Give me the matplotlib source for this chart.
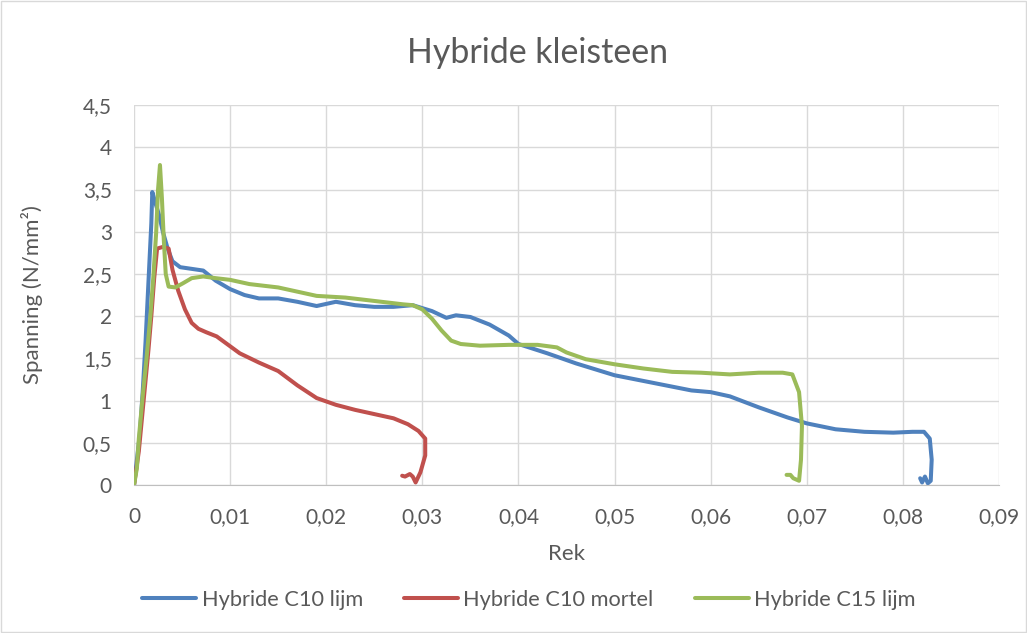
import numpy as np
import matplotlib
matplotlib.use('Agg')
import matplotlib.pyplot as plt
from matplotlib.patches import Rectangle
from matplotlib.ticker import FuncFormatter

plt.rcParams['font.family'] = ['Lato', 'DejaVu Sans']

# Hybride C10 lijm
rek_c10_lijm = [0, 0.0003, 0.0006, 0.0009, 0.0012, 0.0015, 0.0018, 0.0019, 0.0022, 0.0026,
                0.003, 0.0035, 0.004, 0.0048, 0.006, 0.0072, 0.0085, 0.01, 0.0115, 0.013,
                0.015, 0.017, 0.019, 0.021, 0.023, 0.025, 0.027, 0.029, 0.031, 0.0325,
                0.0335, 0.035, 0.037, 0.039, 0.04, 0.043, 0.046, 0.05, 0.054, 0.058,
                0.06, 0.062, 0.065, 0.068, 0.07, 0.073, 0.076, 0.079, 0.081, 0.0822,
                0.0828, 0.083, 0.0829, 0.0826, 0.0823, 0.082, 0.0818]
sp_c10_lijm = [0, 0.3, 0.6, 1.1, 1.7, 2.4, 3.1, 3.47, 3.35, 3.2,
               3.0, 2.8, 2.65, 2.58, 2.56, 2.54, 2.42, 2.32, 2.25, 2.21,
               2.21, 2.17, 2.12, 2.17, 2.13, 2.11, 2.11, 2.13, 2.06, 1.98,
               2.01, 1.99, 1.9, 1.77, 1.67, 1.56, 1.44, 1.30, 1.21, 1.12,
               1.1, 1.05, 0.92, 0.8, 0.73, 0.66, 0.63, 0.62, 0.63, 0.63,
               0.55, 0.3, 0.05, 0.02, 0.1, 0.03, 0.08]

# Hybride C10 mortel
rek_c10_mortel = [0, 0.0005, 0.001, 0.0015, 0.0018, 0.0021, 0.0024, 0.003, 0.0036, 0.004,
                  0.0046, 0.0053, 0.006, 0.0067, 0.0075, 0.0086, 0.0098, 0.011, 0.013, 0.015,
                  0.017, 0.019, 0.021, 0.023, 0.025, 0.027, 0.0285, 0.0296, 0.0303, 0.0303,
                  0.0298, 0.0293, 0.029, 0.0287, 0.0282, 0.0279]
sp_c10_mortel = [0, 0.4, 1.0, 1.6, 2.0, 2.45, 2.8, 2.82, 2.8, 2.55,
                 2.3, 2.08, 1.92, 1.85, 1.81, 1.76, 1.66, 1.56, 1.45, 1.35,
                 1.18, 1.03, 0.95, 0.89, 0.84, 0.79, 0.72, 0.64, 0.55, 0.35,
                 0.15, 0.03, 0.1, 0.13, 0.1, 0.11]

# Hybride C15 lijm
rek_c15_lijm = [0, 0.0003, 0.0005, 0.0009, 0.0013, 0.0017, 0.002, 0.0023, 0.0025, 0.0027,
                0.0029, 0.0031, 0.0033, 0.0036, 0.0043, 0.0051, 0.006, 0.0072, 0.0085, 0.01,
                0.012, 0.015, 0.017, 0.019, 0.022, 0.025, 0.028, 0.029, 0.03, 0.031,
                0.032, 0.033, 0.034, 0.036, 0.039, 0.042, 0.044, 0.045, 0.047, 0.05,
                0.053, 0.056, 0.059, 0.062, 0.065, 0.0675, 0.0685, 0.0692, 0.0695, 0.0694,
                0.0692, 0.0686, 0.0683, 0.0679]
sp_c15_lijm = [0, 0.2, 0.55, 1.05, 1.5, 2.0, 2.45, 2.98, 3.5, 3.79,
               3.4, 2.9, 2.5, 2.35, 2.34, 2.39, 2.45, 2.47, 2.45, 2.43,
               2.38, 2.34, 2.29, 2.24, 2.22, 2.18, 2.14, 2.13, 2.08, 1.97,
               1.83, 1.71, 1.67, 1.65, 1.66, 1.66, 1.63, 1.57, 1.49, 1.43,
               1.38, 1.34, 1.33, 1.31, 1.33, 1.33, 1.31, 1.1, 0.7, 0.3,
               0.05, 0.08, 0.12, 0.12]

tekst = '#595959'

fig = plt.figure(figsize=(10.27, 6.33), dpi=100)
ax = fig.add_axes([0.1305, 0.2338, 0.8422, 0.6002])

kw = dict(lw=2.9, solid_joinstyle='round', solid_capstyle='round')
ax.plot(rek_c10_lijm, sp_c10_lijm, color='#4F81BD', label='Hybride C10 lijm', **kw)
ax.plot(rek_c10_mortel, sp_c10_mortel, color='#C0504D', label='Hybride C10 mortel', **kw)
ax.plot(rek_c15_lijm, sp_c15_lijm, color='#9BBB59', label='Hybride C15 lijm', **kw)

ax.set_xlim(0, 0.09)
ax.set_ylim(0, 4.5)
ax.set_xticks(np.arange(0, 0.0901, 0.01))
ax.set_yticks(np.arange(0, 4.51, 0.5))

def komma(v, pos):
    s = ('%.2f' % v).rstrip('0').rstrip('.')
    return s.replace('.', ',')

ax.xaxis.set_major_formatter(FuncFormatter(komma))
ax.yaxis.set_major_formatter(FuncFormatter(komma))
ax.tick_params(axis='x', length=0, labelsize=15, colors=tekst, pad=16)
ax.tick_params(axis='y', length=0, labelsize=15, colors=tekst, pad=16)
ax.grid(True, color='#d9d9d9', lw=1)
ax.set_axisbelow(True)
for s in ['top', 'right', 'left']:
    ax.spines[s].set_visible(False)
ax.spines['bottom'].set_color('#bfbfbf')

ax.set_xlabel('Rek', fontsize=16, color=tekst)
ax.set_ylabel('Spanning (N/mm²)', fontsize=16, color=tekst)
ax.xaxis.set_label_coords(0.5, -0.155)
ax.yaxis.set_label_coords(-0.105, 0.5)
fig.text(0.5235, 0.916, 'Hybride kleisteen', ha='center', va='center',
         fontsize=24.4, color=tekst)

fig.legend(loc='center', bbox_to_anchor=(0.515, 0.052), ncol=3, frameon=False,
           fontsize=15.7, handlelength=2.48, handletextpad=0.25, columnspacing=1.88,
           labelcolor=tekst)

fig.patches.append(Rectangle((0.001, 0.001), 0.998, 0.998, transform=fig.transFigure,
                             fill=False, edgecolor='#d9d9d9', lw=1))

fig.savefig('out.png', dpi=100)
